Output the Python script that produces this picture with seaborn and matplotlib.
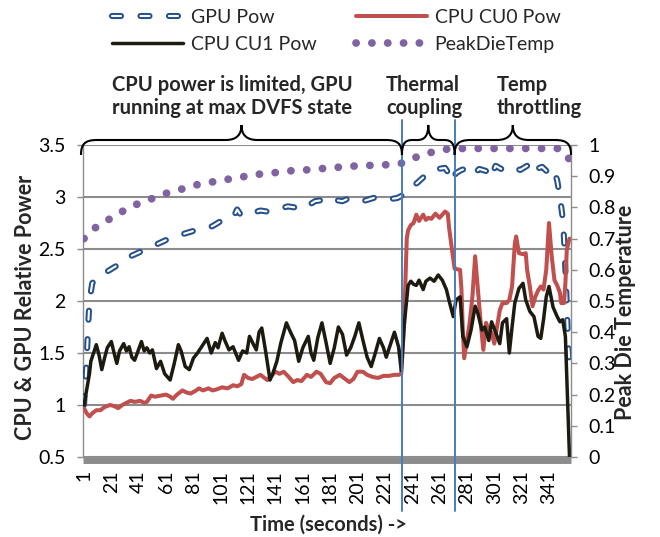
import matplotlib
matplotlib.use("Agg")
import matplotlib.pyplot as plt
import seaborn as sns
from matplotlib.path import Path
from matplotlib.patches import PathPatch
from matplotlib.lines import Line2D
from matplotlib.transforms import IdentityTransform
import matplotlib.patheffects as pe

# ---------------- data ----------------
gpu_t = [1, 2, 3, 4, 5, 7, 10, 15, 20, 25, 30, 35, 40, 45, 50, 55, 60, 65, 70, 75,
         80, 85, 90, 95, 100, 105, 110, 113, 116, 120, 125, 130, 135, 140, 145, 150,
         155, 160, 165, 170, 175, 180, 185, 190, 195, 200, 205, 210, 215, 220, 225,
         230, 233, 237, 241, 245, 250, 255, 260, 265, 268, 270, 273, 277, 282, 286,
         290, 295, 298, 302, 306, 310, 315, 320, 325, 328, 332, 336, 340, 344, 347,
         349, 351, 352, 353, 354, 355, 356]
gpu_pow = [1.0, 1.2, 1.45, 1.75, 2.0, 2.17, 2.22, 2.26, 2.30, 2.34, 2.40, 2.43, 2.46,
           2.49, 2.52, 2.55, 2.58, 2.61, 2.63, 2.65, 2.67, 2.69, 2.70, 2.72, 2.76, 2.78,
           2.80, 2.88, 2.82, 2.83, 2.85, 2.87, 2.86, 2.87, 2.89, 2.91, 2.90, 2.88, 2.92,
           2.96, 2.97, 3.00, 2.97, 2.96, 2.99, 2.98, 2.96, 2.98, 3.00, 2.99, 2.98, 2.99,
           3.01, 3.06, 3.10, 3.14, 3.20, 3.25, 3.27, 3.28, 3.22, 3.15, 3.23, 3.26, 3.28,
           3.22, 3.27, 3.25, 3.18, 3.30, 3.27, 3.30, 3.28, 3.26, 3.30, 3.22, 3.27, 3.29,
           3.24, 3.28, 3.16, 3.0, 2.8, 2.6, 2.3, 1.95, 1.6, 1.4]

cu0_t = [1, 3, 5, 7, 10, 13, 16, 20, 23, 26,
         29, 32, 35, 38, 42, 45, 47, 50, 53, 57,
         61, 64, 66, 69, 73, 76, 79, 83, 85, 88,
         92, 95, 98, 102, 106, 110, 113, 116, 118, 121,
         124, 127, 130, 133, 135, 138, 141, 144, 147, 150,
         154, 157, 160, 164, 167, 171, 174, 178, 181, 184,
         188, 191, 195, 198, 201, 205, 208, 212, 216, 220,
         224, 228, 231, 233, 235, 237, 238, 240, 242, 244,
         246, 249, 251, 253, 255, 258, 261, 263, 265, 267,
         268, 270, 272, 276, 277, 278, 279, 281, 283, 285,
         287, 289, 291, 293, 295, 297, 299, 301, 303, 305,
         307, 310, 312, 314, 316, 317, 319, 322, 324, 325,
         327, 329, 331, 333, 335, 337, 339, 341, 343, 345,
         347, 349, 350, 352, 353, 354, 356]
cu0_pow = [0.97, 0.92, 0.89, 0.92, 0.95, 0.95, 0.98, 1.00, 0.99, 0.97,
           1.00, 1.02, 1.04, 1.03, 1.04, 1.02, 1.03, 1.09, 1.08, 1.09,
           1.10, 1.08, 1.06, 1.10, 1.14, 1.12, 1.11, 1.14, 1.16, 1.14,
           1.16, 1.14, 1.15, 1.17, 1.16, 1.19, 1.18, 1.20, 1.29, 1.26,
           1.25, 1.27, 1.29, 1.26, 1.24, 1.28, 1.32, 1.30, 1.32, 1.28,
           1.22, 1.24, 1.23, 1.29, 1.27, 1.32, 1.30, 1.22, 1.21, 1.26,
           1.29, 1.26, 1.22, 1.25, 1.32, 1.32, 1.29, 1.27, 1.26, 1.28,
           1.28, 1.29, 1.29, 1.30, 1.75, 2.60, 2.68, 2.73, 2.75, 2.83,
           2.77, 2.83, 2.78, 2.80, 2.79, 2.84, 2.80, 2.83, 2.86, 2.84,
           2.70, 2.50, 2.31, 2.30, 2.11, 1.72, 1.45, 1.62, 1.79, 2.04,
           2.43, 2.11, 1.80, 1.53, 1.79, 1.72, 1.70, 1.59, 1.75, 1.91,
           1.98, 1.98, 2.01, 2.14, 2.55, 2.62, 2.46, 2.45, 2.46, 2.30,
           2.14, 1.95, 2.04, 2.10, 2.14, 2.11, 2.30, 2.75, 2.43, 2.20,
           2.15, 2.08, 1.98, 1.98, 2.17, 2.49, 2.60]

cu1_t = [1, 3, 5, 6, 8, 10, 12, 14, 16, 18,
         21, 23, 25, 27, 30, 32, 34, 36, 38, 40,
         43, 45, 47, 49, 51, 54, 57, 60, 64, 67,
         70, 72, 75, 78, 81, 84, 87, 91, 94, 97,
         99, 102, 104, 107, 110, 114, 117, 120, 122, 125,
         127, 129, 131, 134, 137, 139, 142, 145, 149, 152,
         155, 158, 161, 165, 167, 169, 172, 175, 178, 181,
         184, 187, 190, 193, 196, 199, 202, 205, 208, 211,
         214, 217, 220, 222, 225, 228, 231, 233, 235, 238,
         240, 242, 244, 246, 249, 251, 254, 257, 260, 263,
         266, 268, 271, 273, 276, 278, 281, 284, 287, 289,
         292, 294, 297, 299, 302, 305, 307, 310, 312, 314,
         316, 319, 322, 324, 327, 330, 333, 335, 337, 339,
         341, 344, 347, 349, 351, 353, 356]
cu1_pow = [1.00, 1.15, 1.30, 1.42, 1.50, 1.58, 1.48, 1.34, 1.45, 1.55,
           1.61, 1.50, 1.40, 1.52, 1.59, 1.52, 1.56, 1.46, 1.43, 1.50,
           1.61, 1.52, 1.55, 1.50, 1.53, 1.35, 1.42, 1.30, 1.24, 1.40,
           1.58, 1.52, 1.37, 1.34, 1.45, 1.50, 1.56, 1.64, 1.50, 1.60,
           1.55, 1.69, 1.62, 1.53, 1.56, 1.43, 1.52, 1.50, 1.66, 1.58,
           1.53, 1.70, 1.74, 1.50, 1.24, 1.30, 1.42, 1.60, 1.79, 1.70,
           1.62, 1.42, 1.55, 1.66, 1.50, 1.43, 1.65, 1.79, 1.60, 1.40,
           1.55, 1.75, 1.68, 1.48, 1.55, 1.66, 1.79, 1.62, 1.46, 1.37,
           1.50, 1.64, 1.55, 1.46, 1.58, 1.70, 1.56, 1.33, 1.75, 2.15,
           2.19, 2.16, 2.15, 2.20, 2.11, 2.19, 2.22, 2.19, 2.25, 2.20,
           2.11, 2.00, 1.85, 2.01, 2.04, 1.66, 1.56, 1.72, 1.95, 1.88,
           1.72, 1.75, 1.62, 1.80, 1.70, 1.59, 1.79, 1.83, 1.50, 1.75,
           1.98, 2.12, 2.17, 2.01, 1.90, 1.85, 1.66, 1.64, 1.82, 2.04,
           2.14, 1.94, 1.85, 1.80, 1.82, 1.66, 0.50]

temp_t = [1, 9, 19, 29, 39, 50, 61, 72, 83, 94, 106, 117, 128, 140, 151, 163, 174,
          185, 196, 212, 224, 234, 246, 257, 268, 280, 292, 303, 315, 326, 337, 349, 356]
temp_val = [0.70, 0.734, 0.761, 0.787, 0.809, 0.827, 0.845, 0.858, 0.872, 0.881,
            0.890, 0.898, 0.906, 0.911, 0.917, 0.920, 0.924, 0.928, 0.932, 0.935,
            0.937, 0.942, 0.965, 0.979, 0.988, 0.989, 0.989, 0.989, 0.989, 0.989,
            0.989, 0.989, 0.954]

series_names = ["GPU Pow", "CPU CU0 Pow", "CPU CU1 Pow", "PeakDieTemp"]
x_tick_labels = ["1", "21", "41", "61", "81", "101", "121", "141", "161", "181",
                 "201", "221", "241", "261", "281", "301", "321", "341"]
left_ticks = [0.5, 1, 1.5, 2, 2.5, 3, 3.5]
left_tick_labels = ["0.5", "1", "1.5", "2", "2.5", "3", "3.5"]
right_ticks = [0, 0.1, 0.2, 0.3, 0.4, 0.5, 0.6, 0.7, 0.8, 0.9, 1.0]
right_tick_labels = ["0", "0.1", "0.2", "0.3", "0.4", "0.5", "0.6", "0.7", "0.8", "0.9", "1"]
phase_bounds = [233.5, 272]
phase_spans = [(-1.2, 233.5), (233.5, 272), (272, 357.1)]
phase_texts = ["CPU power is limited, GPU\nrunning at max DVFS state",
               "Thermal\ncoupling", "Temp\nthrottling"]

# ---------------- style ----------------
sns.set_theme(style="white")
plt.rcParams["font.family"] = ["Lato", "DejaVu Sans"]
plt.rcParams["lines.scale_dashes"] = False

W, H = 660, 537
fig = plt.figure(figsize=(W / 100, H / 100), dpi=100)
L, R, T, B = 83, 571, 145, 457
ax = fig.add_axes([L / W, (H - B) / H, (R - L) / W, (B - T) / H])

GRID = "#8c8c8c"
C_GPU = "#24508c"
C_CU0 = "#c0504d"
C_CU1 = "#1d1b10"
C_TEMP = "#8064a2"
C_VLINE = "#4a7ebb"

gpu_style = dict(color="white", lw=1.5, linestyle=(0, (6.5, 14.0)),
                 dash_capstyle="round",
                 path_effects=[pe.Stroke(linewidth=4.4, foreground=C_GPU), pe.Normal()])
cu0_style = dict(color=C_CU0, lw=2.9, solid_joinstyle="round")
cu1_style = dict(color=C_CU1, lw=2.5, solid_joinstyle="round")
temp_style = dict(color=C_TEMP, lw=5.6, linestyle=(0, (0.1, 11.3)), dash_capstyle="round")

sns.lineplot(x=gpu_t, y=gpu_pow, ax=ax, legend=False, zorder=3, **gpu_style)
sns.lineplot(x=cu0_t, y=cu0_pow, ax=ax, legend=False, zorder=4, **cu0_style)
sns.lineplot(x=cu1_t, y=cu1_pow, ax=ax, legend=False, zorder=5, **cu1_style)

ax.set_xlim(0.27, 357.1)
ax.set_ylim(0.5, 3.5)
ax.set_yticks(left_ticks)
ax.set_yticklabels(left_tick_labels)
ax.set_xticks([int(s) for s in x_tick_labels])
ax.set_xticklabels(x_tick_labels)
ax.set_xlabel("")
ax.set_ylabel("")
ax.grid(axis="y", color=GRID, lw=1.5)
ax.grid(axis="x", visible=False)
ax.set_axisbelow(True)
for s in ["top", "right"]:
    ax.spines[s].set_visible(False)
ax.spines["left"].set_color(GRID)
ax.spines["left"].set_linewidth(1.0)
ax.spines["bottom"].set_color(GRID)
ax.spines["bottom"].set_linewidth(5.0)
ax.spines["bottom"].set_position(("outward", 2.5))
ax.spines["bottom"].set_capstyle("butt")
ax.tick_params(axis="y", length=4.5, width=1, color=GRID, pad=8, labelsize=14,
               labelcolor="black", left=True, direction="out")
ax.tick_params(axis="x", length=0, pad=7, labelsize=14, labelcolor="black",
               labelrotation=90)

ax2 = ax.twinx()
sns.lineplot(x=temp_t, y=temp_val, ax=ax2, legend=False, zorder=6, **temp_style)
ax2.set_ylim(0, 1)
ax2.set_yticks(right_ticks)
ax2.set_yticklabels(right_tick_labels)
ax2.set_ylabel("")
for s in ["top", "left", "bottom"]:
    ax2.spines[s].set_visible(False)
ax2.spines["right"].set_color(GRID)
ax2.spines["right"].set_linewidth(1.0)
ax2.tick_params(axis="y", length=4.5, width=1, color=GRID, pad=8, labelsize=14,
                labelcolor="black", right=True, direction="out")
ax2.grid(False)
for lab in ax.get_xticklabels():
    lab.set_rotation(90)

# vertical phase lines
for b in phase_bounds:
    ax2.axvline(b, ymin=(B - 511) / (B - T), ymax=(B - 120) / (B - T),
                color=C_VLINE, lw=1.4, clip_on=False, zorder=7)

# braces
def draw_brace(t0, t1):
    x0 = ax.transData.transform((t0, 1))[0]
    x1 = ax.transData.transform((t1, 1))[0]
    xc = (x0 + x1) / 2
    hy, ey, ty = H - 140, H - 155, H - 125
    r = min(16.0, (x1 - x0) / 5.0)
    verts = [(x0, ey),
             (x0, hy - 4), (x0 + 0.25 * r, hy), (x0 + r, hy),
             (xc - r, hy),
             (xc - 0.3 * r, hy), (xc, hy + 0.35 * (ty - hy)), (xc, ty),
             (xc, hy + 0.35 * (ty - hy)), (xc + 0.3 * r, hy), (xc + r, hy),
             (x1 - r, hy),
             (x1 - 0.25 * r, hy), (x1, hy - 4), (x1, ey)]
    codes = [Path.MOVETO,
             Path.CURVE4, Path.CURVE4, Path.CURVE4,
             Path.LINETO,
             Path.CURVE4, Path.CURVE4, Path.CURVE4,
             Path.CURVE4, Path.CURVE4, Path.CURVE4,
             Path.LINETO,
             Path.CURVE4, Path.CURVE4, Path.CURVE4]
    patch = PathPatch(Path(verts, codes), transform=IdentityTransform(),
                      fill=False, lw=1.5, edgecolor="black", clip_on=False, zorder=8)
    fig.add_artist(patch)

for t0, t1 in phase_spans:
    draw_brace(t0, t1)

# phase annotations
for (xp, txt) in zip([112, 386, 497], phase_texts):
    fig.text(xp / W, 1 - 75 / H, txt, ha="left", va="top", fontsize=14.5,
             fontweight="bold", linespacing=1.2)

# axis labels
fig.text(26 / W, 1 - 307 / H, "CPU & GPU Relative Power", rotation=90, ha="center",
         va="center", fontsize=15.5, fontweight="bold")
fig.text(626 / W, 1 - 312 / H, "Peak Die Temperature", rotation=90, ha="center",
         va="center", fontsize=15.5, fontweight="bold")
fig.text(328 / W, 1 - 525 / H, "Time (seconds) ->", ha="center", va="center",
         fontsize=14.5, fontweight="bold")

# legend
handles = [Line2D([], [], **gpu_style), Line2D([], [], **cu1_style),
           Line2D([], [], **cu0_style), Line2D([], [], **temp_style)]
labels = [series_names[0], series_names[2], series_names[1], series_names[3]]
fig.legend(handles, labels, ncol=2, loc="upper left",
           bbox_to_anchor=(112 / W, 1 - 9 / H), frameon=False, fontsize=14,
           handlelength=3.66, handletextpad=0.4, columnspacing=2.0,
           labelspacing=0.5, borderpad=0, borderaxespad=0)

fig.savefig("out.png", dpi=100)
